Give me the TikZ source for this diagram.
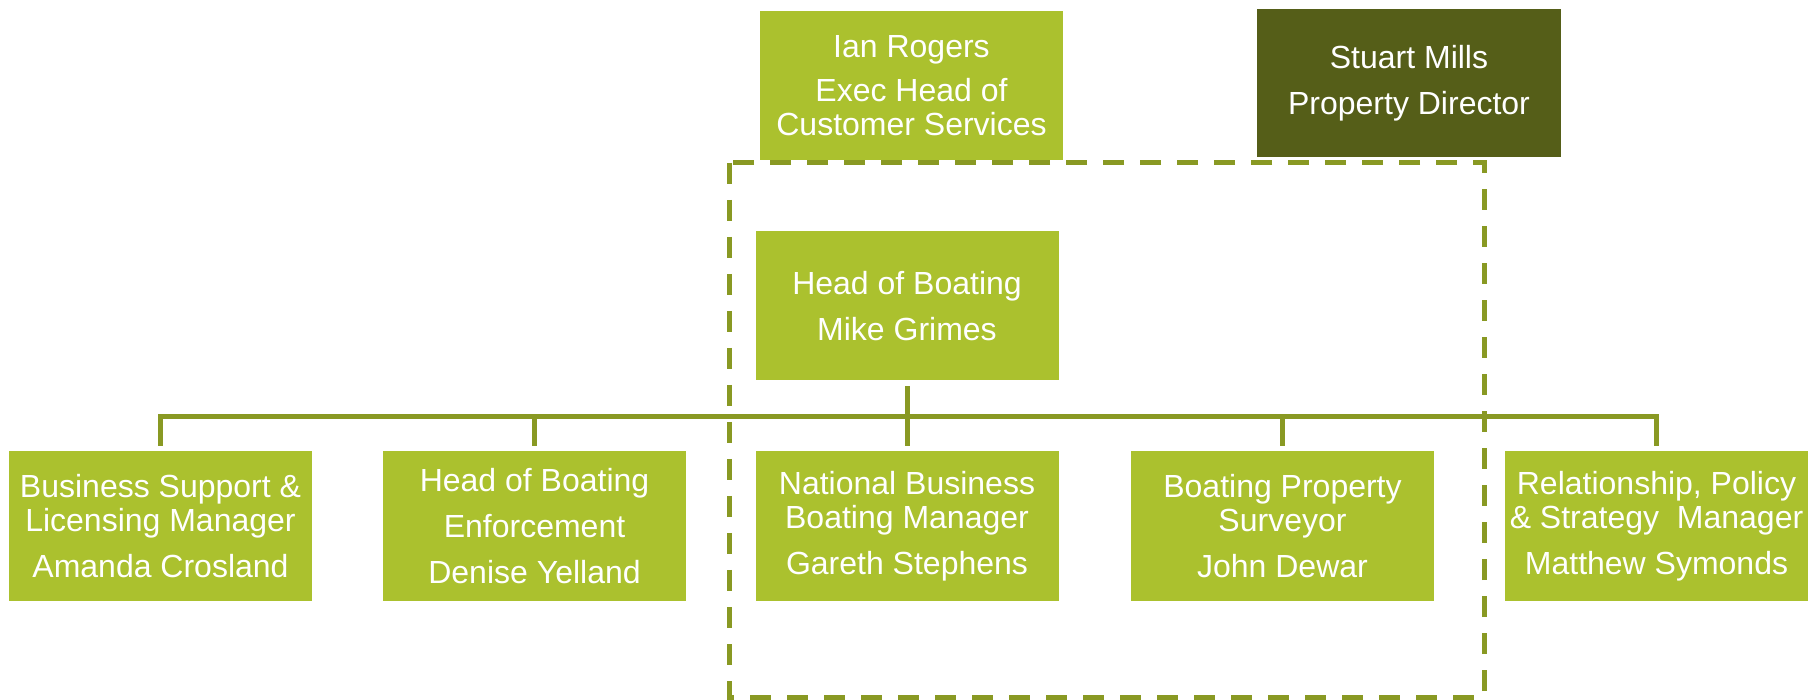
\documentclass[tikz,border=0pt]{standalone}
\usepackage{fontspec}
\setmainfont{Liberation Sans}
\begin{document}
\begin{tikzpicture}[x=1pt,y=1pt,
  box/.style={fill=boxColor,text=white,inner sep=0pt,outer sep=0pt,minimum width=303pt,minimum height=149pt,align=center,font=\fontsize{32}{34}\selectfont},
  conn/.style={draw=lineColor,line width=5pt}]
\definecolor{boxColor}{RGB}{171,193,46}
\definecolor{darkColor}{RGB}{85,94,24}
\definecolor{lineColor}{RGB}{137,153,35}
\path[use as bounding box,fill=white] (0,0) rectangle (1820,699);

\node[box] (ian) at (911.5,613.5) {Ian Rogers\\[10pt]Exec Head of\\Customer Services};

\node[box,fill=darkColor,minimum width=304pt,minimum height=148pt] (stuart) at (1409,616) {Stuart Mills\\[12pt]Property Director};

\node[box] (boating) at (907,393) {Head of Boating\\[12pt]Mike Grimes};

\node[box] (support) at (160.5,173) {Business Support \&\\Licensing Manager\\[12pt]Amanda Crosland};

\node[box] (enforce) at (534.5,173) {Head of Boating\\[12pt]Enforcement\\[12pt]Denise Yelland};

\node[box] (national) at (907,173) {National Business\\Boating Manager\\[12pt]Gareth Stephens};

\node[box] (surveyor) at (1282.5,173) {Boating Property\\Surveyor\\[12pt]John Dewar};

\node[box] (policy) at (1656.5,173) {Relationship, Policy\\\&\ Strategy\ \ Manager\\[12pt]Matthew Symonds};

\coordinate (bar) at ([yshift=-36pt]boating.south);
\path[conn,shorten <=6pt] (boating.south) -- (bar);
\foreach \n in {support,enforce,national,surveyor,policy}
  \path[conn,shorten >=5pt] (bar) -| (\n.north);

\path[draw=lineColor,line width=5pt,dash pattern=on 21pt off 16pt] (729,536) rectangle (1484,2);
\end{tikzpicture}
\end{document}
